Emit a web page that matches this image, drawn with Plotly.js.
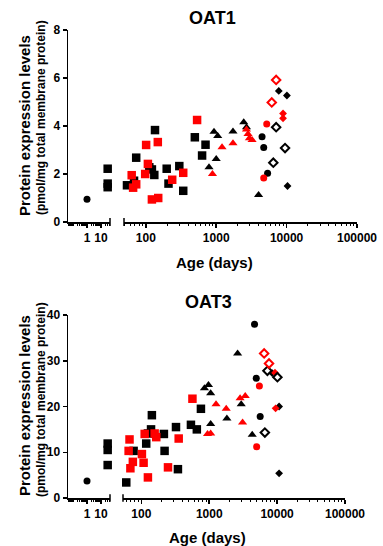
<!DOCTYPE html>
<html>
<head>
<meta charset="utf-8">
<script src="https://cdn.plot.ly/plotly-3.0.1.min.js"></script>
<style>html,body{margin:0;padding:0;background:#fff;}#chart{width:383px;height:546px;}</style>
</head>
<body>
<div id="chart"></div>
<script>
// ---------- OAT1 (pmol/mg total membrane protein) ----------
const oat1BlackSquareAge = [30, 30, 30, 54, 73, 68, 112, 122, 135, 132, 198, 210, 299, 340, 497, 705, 630];
const oat1BlackSquareVal = [2.22, 1.6, 1.45, 1.53, 2.68, 1.72, 2.28, 2.19, 3.83, 1.96, 2.22, 1.6, 2.33, 1.3, 3.53, 3.22, 2.77];
const oat1RedSquareAge = [63, 66, 73, 101, 107, 98, 148, 122, 150, 237, 340, 535];
const oat1RedSquareVal = [1.95, 1.43, 1.57, 3.21, 2.42, 2.0, 3.33, 0.94, 1.0, 1.76, 2.05, 4.25];
const oat1BlackTriangleAge = [790, 930, 1000, 1050, 1730, 2460, 2690, 4000];
const oat1BlackTriangleVal = [2.28, 3.76, 2.62, 3.58, 3.77, 4.16, 3.95, 1.13];
const oat1RedTriangleAge = [885, 1210, 1730, 2690, 2830, 2960, 3230];
const oat1RedTriangleVal = [2.0, 3.11, 3.28, 3.85, 3.67, 3.49, 3.42];
const oat1BlackCircleAge = [1, 4480, 4730, 5370];
const oat1BlackCircleVal = [0.95, 3.55, 3.1, 2.03];
const oat1RedCircleAge = [5220, 4730];
const oat1RedCircleVal = [4.08, 1.83];
const oat1BlackDiamondAge = [7740, 10100, 10300];
const oat1BlackDiamondVal = [5.46, 5.27, 1.5];
const oat1RedDiamondAge = [8900, 8900];
const oat1RedDiamondVal = [4.52, 4.32];
const oat1BlackOpenDiamondAge = [7100, 9500, 6470];
const oat1BlackOpenDiamondVal = [3.95, 3.08, 2.47];
const oat1RedOpenDiamondAge = [7100, 6150];
const oat1RedOpenDiamondVal = [5.92, 4.98];

// ---------- OAT3 ----------
const oat3BlackSquareAge = [30, 30, 30, 60, 77, 118, 125, 143, 139, 215, 220, 324, 346, 538, 657, 755];
const oat3BlackSquareVal = [11.9, 10.5, 7.2, 3.4, 10.3, 11.9, 14.1, 18.1, 15.0, 14.0, 10.3, 15.5, 6.3, 16.0, 15.0, 19.5];
const oat3RedSquareAge = [67, 65, 75, 69, 102, 108, 125, 112, 157, 166, 247, 355, 566];
const oat3RedSquareVal = [12.8, 10.3, 7.9, 6.5, 9.6, 7.7, 4.5, 14.0, 14.1, 13.3, 6.7, 13.0, 21.7];
const oat3BlackTriangleAge = [850, 975, 1050, 1050, 1820, 2620, 2960, 4300];
const oat3BlackTriangleVal = [24.0, 24.7, 22.9, 16.2, 17.4, 31.6, 20.5, 13.8];
const oat3RedTriangleAge = [945, 1050, 1260, 1780, 2850, 3390, 3100];
const oat3RedTriangleVal = [14.0, 14.1, 20.5, 19.5, 21.8, 22.3, 16.5];
const oat3BlackCircleAge = [1, 4650, 4930, 5630];
const oat3BlackCircleVal = [3.7, 38.0, 26.2, 17.8];
const oat3RedCircleAge = [5480, 5000];
const oat3RedCircleVal = [24.5, 11.2];
const oat3BlackDiamondAge = [8460, 10700, 10700];
const oat3BlackDiamondVal = [27.3, 20.0, 5.4];
const oat3RedDiamondAge = [9300, 9500];
const oat3RedDiamondVal = [27.4, 19.6];
const oat3BlackOpenDiamondAge = [7200, 10100, 6600];
const oat3BlackOpenDiamondVal = [27.8, 26.4, 14.3];
const oat3RedOpenDiamondAge = [6440, 7600];
const oat3RedOpenDiamondVal = [31.6, 29.4];

// tick labels
const segOneTicks = [1, 10];
const segTwoTicks = [100, 1000, 10000, 100000];
const oat1YTicks = [0, 2, 4, 6, 8];
const oat3YTicks = [0, 10, 20, 30, 40];

const BREAK_AGE = 45;
const RED = '#ff0000', BLACK = '#000000';
const FONT = 'Liberation Sans, Arial, Helvetica, sans-serif';

const styles = {
  blackSquare: {symbol: 'square', color: BLACK, size: 8.5},
  redSquare: {symbol: 'square', color: RED, size: 8.5},
  blackTriangle: {symbol: 'triangle-up', color: BLACK, size: 8},
  redTriangle: {symbol: 'triangle-up', color: RED, size: 8},
  blackCircle: {symbol: 'circle', color: BLACK, size: 7},
  redCircle: {symbol: 'circle', color: RED, size: 7},
  blackDiamond: {symbol: 'diamond', color: BLACK, size: 6},
  redDiamond: {symbol: 'diamond', color: RED, size: 6},
  blackOpenDiamond: {symbol: 'diamond-open', color: BLACK, size: 6.5, open: true},
  redOpenDiamond: {symbol: 'diamond-open', color: RED, size: 6.5, open: true}
};

const panels = [
  {seg1: 'x', seg2: 'x2', y: 'y', series: [
    ['blackSquare', oat1BlackSquareAge, oat1BlackSquareVal],
    ['redSquare', oat1RedSquareAge, oat1RedSquareVal],
    ['blackTriangle', oat1BlackTriangleAge, oat1BlackTriangleVal],
    ['redTriangle', oat1RedTriangleAge, oat1RedTriangleVal],
    ['blackCircle', oat1BlackCircleAge, oat1BlackCircleVal],
    ['redCircle', oat1RedCircleAge, oat1RedCircleVal],
    ['blackDiamond', oat1BlackDiamondAge, oat1BlackDiamondVal],
    ['redDiamond', oat1RedDiamondAge, oat1RedDiamondVal],
    ['blackOpenDiamond', oat1BlackOpenDiamondAge, oat1BlackOpenDiamondVal],
    ['redOpenDiamond', oat1RedOpenDiamondAge, oat1RedOpenDiamondVal]
  ]},
  {seg1: 'x3', seg2: 'x4', y: 'y2', series: [
    ['blackSquare', oat3BlackSquareAge, oat3BlackSquareVal],
    ['redSquare', oat3RedSquareAge, oat3RedSquareVal],
    ['blackTriangle', oat3BlackTriangleAge, oat3BlackTriangleVal],
    ['redTriangle', oat3RedTriangleAge, oat3RedTriangleVal],
    ['blackCircle', oat3BlackCircleAge, oat3BlackCircleVal],
    ['redCircle', oat3RedCircleAge, oat3RedCircleVal],
    ['blackDiamond', oat3BlackDiamondAge, oat3BlackDiamondVal],
    ['redDiamond', oat3RedDiamondAge, oat3RedDiamondVal],
    ['blackOpenDiamond', oat3BlackOpenDiamondAge, oat3BlackOpenDiamondVal],
    ['redOpenDiamond', oat3RedOpenDiamondAge, oat3RedOpenDiamondVal]
  ]}
];

const traces = [];
panels.forEach(p => {
  p.series.forEach(([key, ages, vals]) => {
    const st = styles[key];
    const marker = {symbol: st.symbol, color: st.color, size: st.size,
      line: st.open ? {color: st.color, width: 2} : {width: 0}};
    [[p.seg1, a => a < BREAK_AGE], [p.seg2, a => a >= BREAK_AGE]].forEach(([xa, keep]) => {
      const xs = [], ys = [];
      ages.forEach((a, i) => { if (keep(a)) { xs.push(a); ys.push(vals[i]); } });
      if (xs.length) traces.push({type: 'scatter', mode: 'markers', x: xs, y: ys,
        xaxis: xa, yaxis: p.y, marker: marker, cliponaxis: false, showlegend: false, hoverinfo: 'skip'});
    });
  });
});

const W = 383, H = 546;
const px = v => v / W;
const py = v => 1 - v / H;

function minorBetween(lo, hi) {
  const out = [];
  for (let e = -2; e <= 5; e++) for (let k = 1; k <= 9; k++) {
    const v = k * Math.pow(10, e);
    if (v >= lo && v <= hi && segTwoTicks.indexOf(v) < 0 && segOneTicks.indexOf(v) < 0) out.push(v);
  }
  return out;
}

const tickFont = {family: FONT, size: 12, color: '#000', weight: 'bold'};
const baseX = {type: 'log', showgrid: false, zeroline: false, showline: true, linecolor: '#000', linewidth: 1.5,
  ticks: 'outside', ticklen: 4, tickwidth: 1.5, tickcolor: '#000', tickfont: tickFont, fixedrange: true};
const seg1Range = [-1.357, 1.643];

function seg1(domain, anchor) {
  return Object.assign({}, baseX, {domain: domain, anchor: anchor, range: seg1Range,
    tickmode: 'array', tickvals: segOneTicks, ticktext: segOneTicks.map(String),
    minor: {ticks: 'outside', ticklen: 2, tickwidth: 1, tickcolor: '#000',
      tickvals: minorBetween(Math.pow(10, seg1Range[0]), Math.pow(10, seg1Range[1]))}});
}
function seg2(domain, anchor, lo) {
  return Object.assign({}, baseX, {domain: domain, anchor: anchor, range: [lo, 5],
    tickmode: 'array', tickvals: segTwoTicks, ticktext: segTwoTicks.map(String),
    minor: {ticks: 'outside', ticklen: 2, tickwidth: 1, tickcolor: '#000',
      tickvals: minorBetween(Math.pow(10, lo), 100000)}});
}
function yax(domain, anchor, range, ticks) {
  return {domain: domain, anchor: anchor, range: range, tickmode: 'array', tickvals: ticks,
    ticktext: ticks.map(String), showgrid: false, zeroline: false, showline: true,
    linecolor: '#000', linewidth: 1.5, ticks: 'outside', ticklen: 4, tickwidth: 1.5,
    tickcolor: '#000', tickfont: tickFont, fixedrange: true};
}

function endBar(xref, x, yref) {
  return {type: 'line', xref: xref, yref: yref, x0: x, x1: x, y0: -0.021, y1: 0.021,
    line: {color: '#000', width: 1.5}};
}

function ann(text, x, y, size, angle, extra) {
  return Object.assign({text: text, x: x, y: y, xref: 'paper', yref: 'paper', showarrow: false,
    textangle: angle || 0, xanchor: 'center', yanchor: 'middle',
    font: {family: FONT, size: size, color: '#000', weight: 'bold'}}, extra || {});
}

const layout = {
  width: W, height: H, margin: {l: 0, r: 0, t: 0, b: 0},
  paper_bgcolor: '#fff', plot_bgcolor: 'rgba(0,0,0,0)', showlegend: false,
  xaxis: seg1([px(68), px(110)], 'y'),
  xaxis2: seg2([px(124), px(357)], 'y', 1.69),
  yaxis: yax([py(222), py(30)], 'x', [0, 8], oat1YTicks),
  xaxis3: seg1([px(68), px(110)], 'y2'),
  xaxis4: seg2([px(123), px(345)], 'y2', 1.73),
  yaxis2: yax([py(498), py(315)], 'x3', [0, 40], oat3YTicks),
  shapes: [
    endBar('x domain', 1, 'y domain'), endBar('x2 domain', 0, 'y domain'),
    endBar('x3 domain', 1, 'y2 domain'), endBar('x4 domain', 0, 'y2 domain')
  ],
  annotations: [
    ann('OAT1', px(212), py(18), 18),
    ann('OAT3', px(208), py(302), 18),
    ann('Age (days)', px(214), py(262), 15),
    ann('Age (days)', px(207), py(537), 15),
    ann('Protein expression levels', px(24), py(126), 15, -90),
    ann('(pmol/mg total membrane protein)', px(41), py(118), 12, -90),
    ann('Protein expression levels', px(24), py(406), 15, -90),
    ann('(pmol/mg total membrane protein)', px(41), py(400), 12, -90)
  ]
};

Plotly.newPlot('chart', traces, layout, {staticPlot: true, displayModeBar: false});
</script>
</body>
</html>
